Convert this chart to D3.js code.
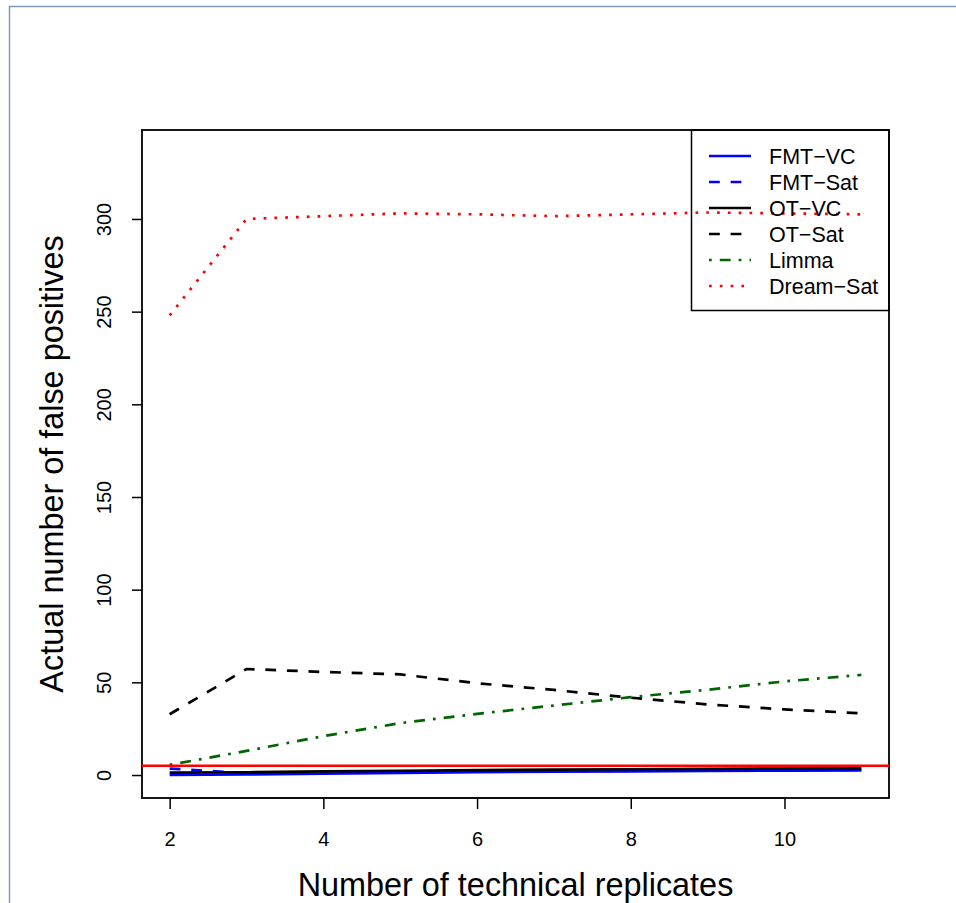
<!DOCTYPE html>
<html>
<head>
<meta charset="utf-8">
<script src="https://cdn.jsdelivr.net/npm/d3@7"></script>
<style>
  html, body { margin: 0; padding: 0; background: #fff; }
  svg { display: block; font-family: "Liberation Sans", Arial, Helvetica, sans-serif; }
</style>
</head>
<body>
<div id="chart"></div>
<script>
// Data
const replicates = [2, 3, 4, 5, 6, 7, 8, 9, 10, 11];
const fmtVC    = [0.0, 0.3, 0.8, 1.2, 1.5, 1.8, 2.0, 2.2, 2.4, 2.5];
const fmtSat   = [3.5, 1.0, 1.3, 1.6, 1.9, 2.1, 2.3, 2.5, 2.6, 2.8];
const otVC     = [1.3, 1.5, 2.0, 2.3, 2.6, 2.9, 3.1, 3.3, 3.5, 3.6];
const otSat    = [32.8, 57.2, 55.6, 54.3, 49.5, 45.9, 41.7, 38.1, 35.4, 33.3];
const limma    = [5.5, 13, 21, 28, 33, 37.5, 42, 46, 50.5, 54];
const dreamSat = [248, 300, 301.5, 303, 302.5, 301.5, 302.5, 303.5, 303, 302.5];
const seriesNames = ['FMT\u2212VC', 'FMT\u2212Sat', 'OT\u2212VC', 'OT\u2212Sat', 'Limma', 'Dream\u2212Sat'];
const xTicks = [2, 4, 6, 8, 10];
const yTicks = [0, 50, 100, 150, 200, 250, 300];
const threshold = 5;

// Configuration
const width = 956, height = 903;
const plot = { left: 142, right: 889, top: 130, bottom: 798 };
const lwd = 2.7;
const styles = [
  { color: '#0000ff', dash: null },
  { color: '#0000ff', dash: [4, 4] },
  { color: '#000000', dash: null },
  { color: '#000000', dash: [4, 4] },
  { color: '#006400', dash: [1, 3, 4, 3] },
  { color: '#ff0000', dash: [1, 3] }
];
const allSeries = [fmtVC, fmtSat, otVC, otSat, limma, dreamSat];

const svg = d3.select('#chart').append('svg')
  .attr('width', width)
  .attr('height', height);

// frame of the screenshot
svg.append('line').attr('x1', 9).attr('x2', width).attr('y1', 6.5).attr('y2', 6.5)
  .attr('stroke', '#7f9bb8').attr('stroke-width', 1.5);
svg.append('line').attr('x1', 9.5).attr('x2', 9.5).attr('y1', 6).attr('y2', height)
  .attr('stroke', '#7f9bb8').attr('stroke-width', 1.5);

const xScale = d3.scaleLinear().domain([1.64, 11.36]).range([plot.left, plot.right]);
const yScale = d3.scaleLinear().domain([-12.4, 348]).range([plot.bottom, plot.top]);

// Axes
const xAxis = svg.append('g')
  .attr('transform', `translate(0,${plot.bottom})`)
  .call(d3.axisBottom(xScale).tickValues(xTicks).tickSize(11).tickPadding(23).tickSizeOuter(0));
xAxis.select('.domain')
  .attr('d', `M${xScale(2)},0H${xScale(10)}`);
xAxis.selectAll('text').style('font-size', '20px').attr('fill', '#000');
xAxis.selectAll('line').attr('stroke-width', 1.5);

const yAxis = svg.append('g')
  .attr('transform', `translate(${plot.left},0)`)
  .call(d3.axisLeft(yScale).tickValues(yTicks).tickSize(10).tickSizeOuter(0));
yAxis.select('.domain').remove();
yAxis.selectAll('line').attr('stroke-width', 1.5);
yAxis.selectAll('text')
  .attr('x', null).attr('dy', null)
  .attr('text-anchor', 'middle')
  .attr('transform', 'translate(-31,0) rotate(-90)')
  .style('font-size', '20px')
  .attr('fill', '#000');

// Plot box
svg.append('rect')
  .attr('x', plot.left).attr('y', plot.top)
  .attr('width', plot.right - plot.left).attr('height', plot.bottom - plot.top)
  .attr('fill', 'none').attr('stroke', '#000').attr('stroke-width', 1.8);

// Axis titles
svg.append('text')
  .attr('x', (plot.left + plot.right) / 2)
  .attr('y', 896)
  .attr('text-anchor', 'middle')
  .style('font-size', '32.4px')
  .text('Number of technical replicates');

svg.append('text')
  .attr('transform', `translate(63,${(plot.top + plot.bottom) / 2}) rotate(-90)`)
  .attr('text-anchor', 'middle')
  .style('font-size', '32.4px')
  .text('Actual number of false positives');

// Lines
const line = d3.line()
  .x((d, i) => xScale(replicates[i]))
  .y(d => yScale(d));

const gLines = svg.append('g');
allSeries.forEach((vals, k) => {
  gLines.append('path')
    .datum(vals)
    .attr('d', line)
    .attr('fill', 'none')
    .attr('stroke', styles[k].color)
    .attr('stroke-width', lwd)
    .attr('stroke-dasharray', styles[k].dash ? styles[k].dash.map(v => v * lwd).join(',') : null);
});

// threshold line
svg.append('line')
  .attr('x1', plot.left).attr('x2', plot.right)
  .attr('y1', yScale(threshold)).attr('y2', yScale(threshold))
  .attr('stroke', '#ff0000').attr('stroke-width', 2.5);

// Legend
const legend = svg.append('g');
legend.append('rect')
  .attr('x', 691.5).attr('y', plot.top)
  .attr('width', plot.right - 691.5).attr('height', 310.5 - plot.top)
  .attr('fill', 'none').attr('stroke', '#000').attr('stroke-width', 1.5);

seriesNames.forEach((name, k) => {
  const yy = 156 + k * 26;
  legend.append('line')
    .attr('x1', 709).attr('x2', 751)
    .attr('y1', yy).attr('y2', yy)
    .attr('stroke', styles[k].color)
    .attr('stroke-width', lwd)
    .attr('stroke-dasharray', styles[k].dash ? styles[k].dash.map(v => v * lwd).join(',') : null);
  legend.append('text')
    .attr('x', 769).attr('y', yy + 7.7)
    .style('font-size', '21.5px')
    .text(name);
});
</script>
</body>
</html>
